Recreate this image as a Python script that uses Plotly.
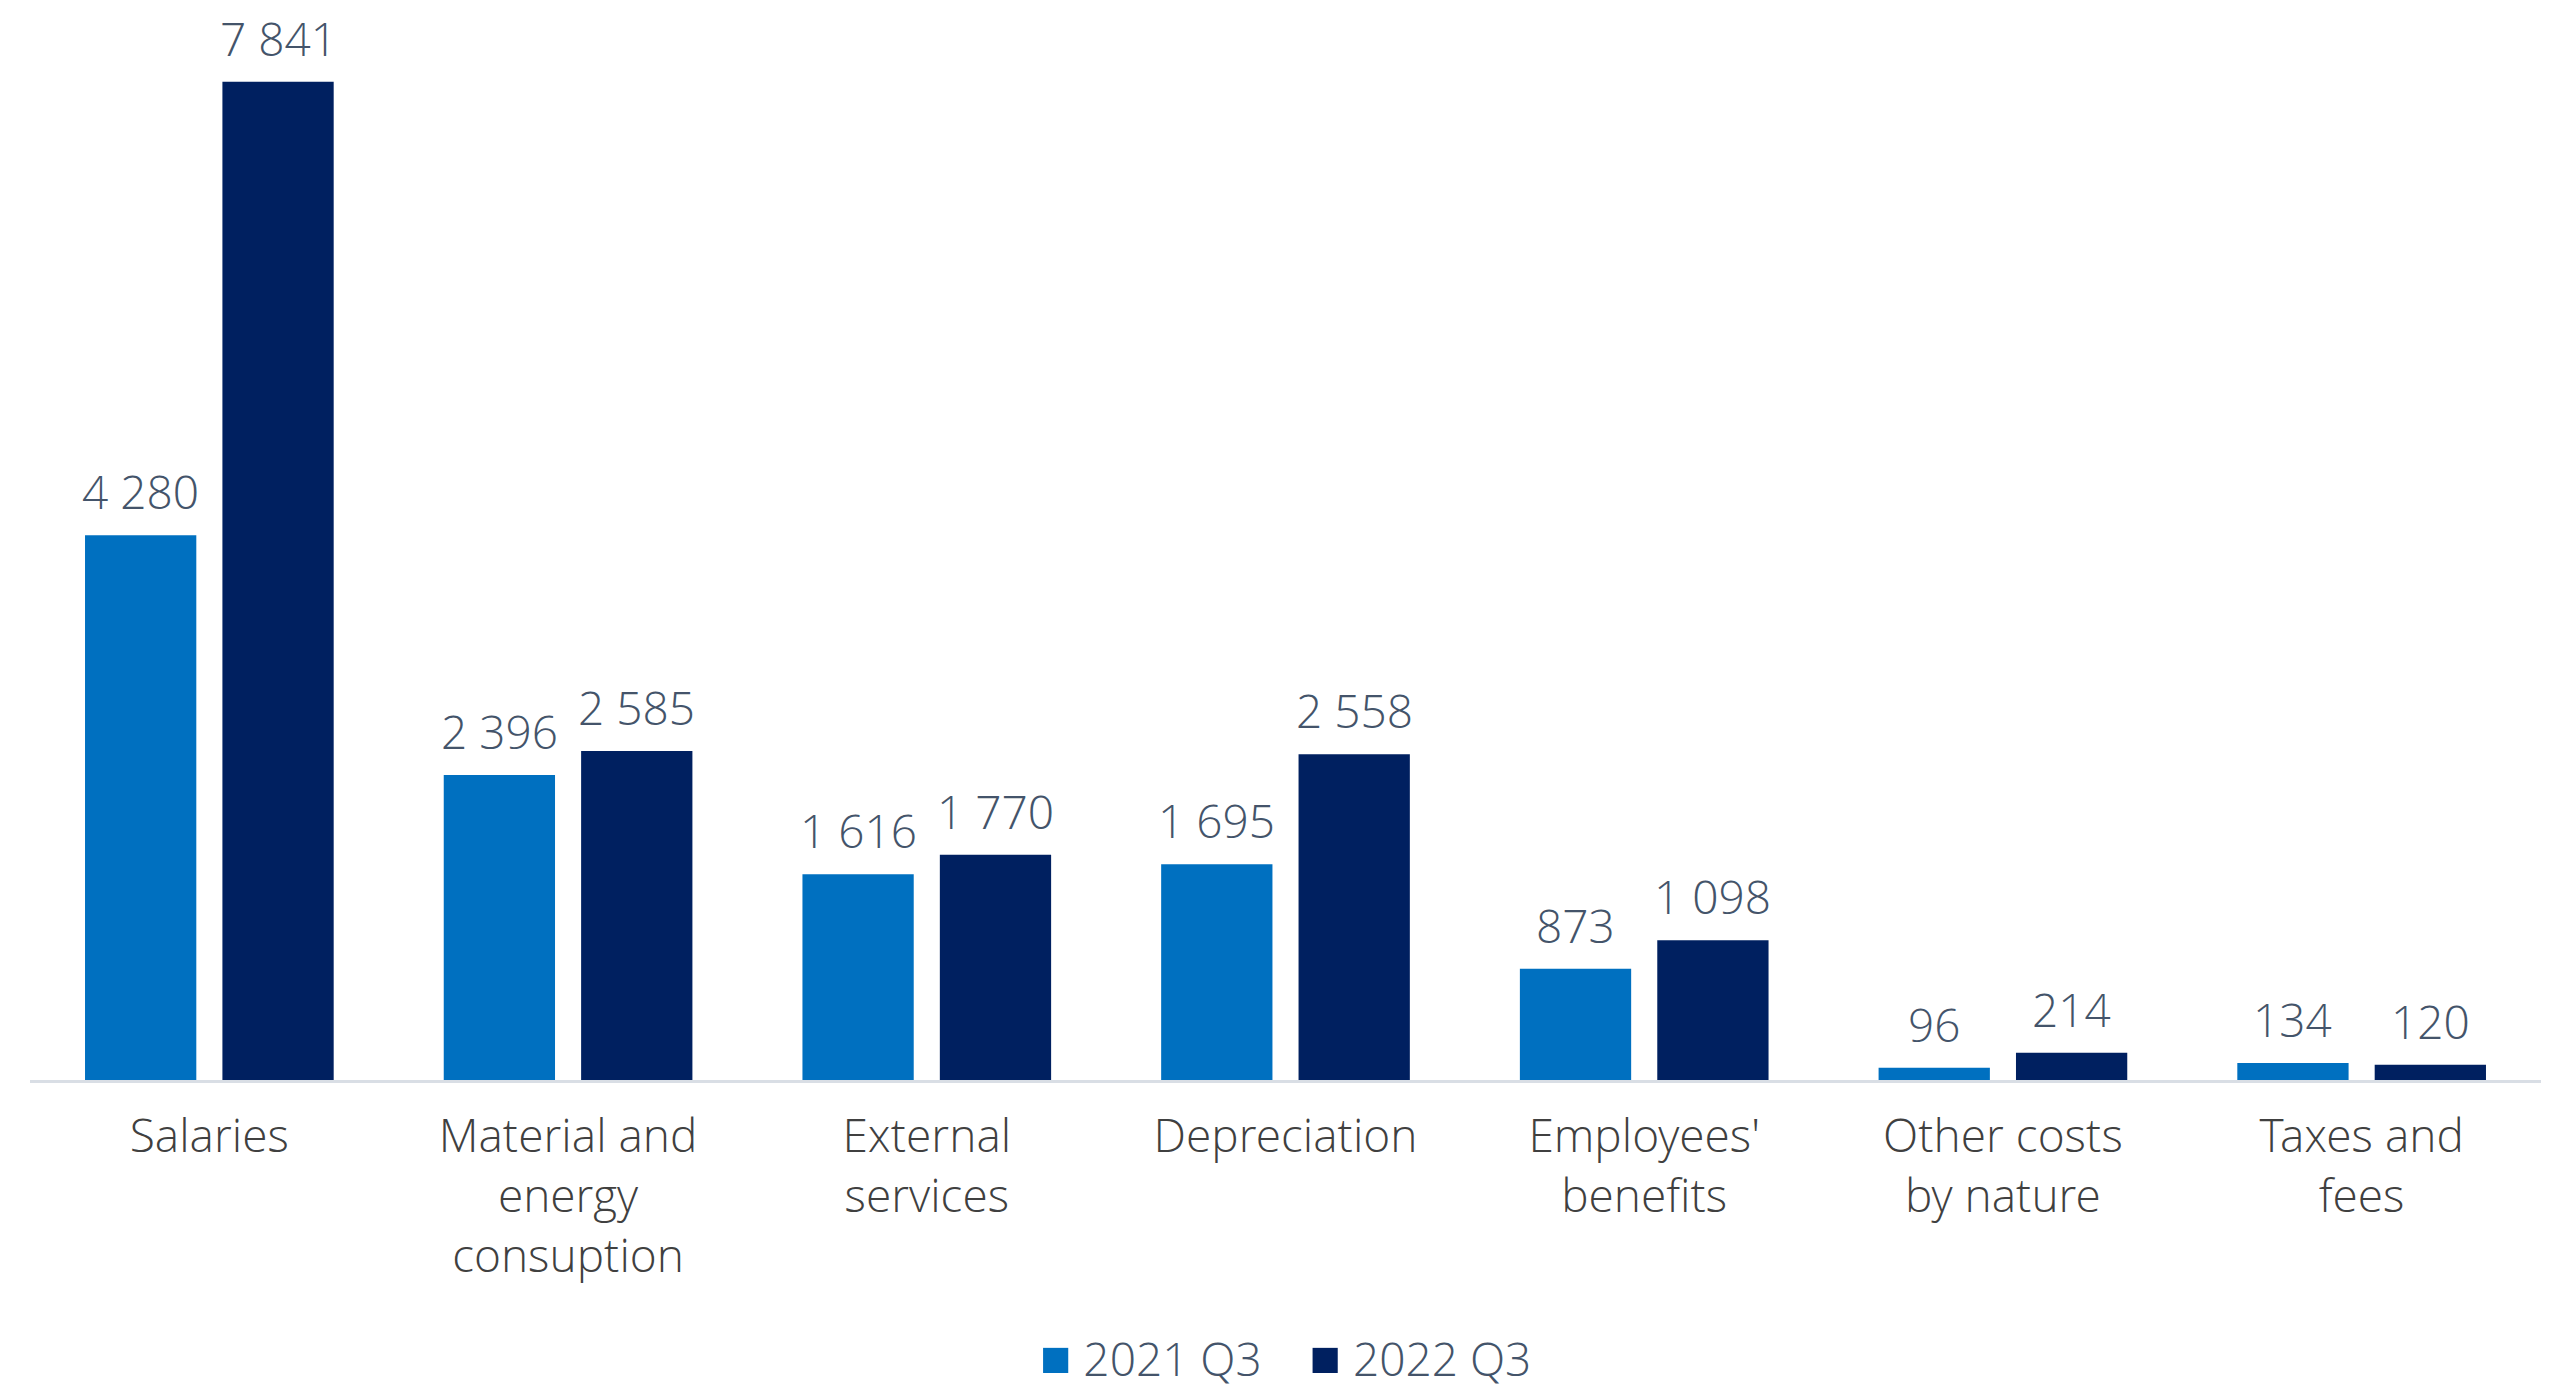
import plotly.graph_objects as go

categories = ["Salaries", "Material and<br>energy<br>consuption", "External<br>services",
              "Depreciation", "Employees'<br>benefits", "Other costs<br>by nature", "Taxes and<br>fees"]
series_names = ["2021 Q3", "2022 Q3"]
values_2021 = [4280, 2396, 1616, 1695, 873, 96, 134]
values_2022 = [7841, 2585, 1770, 2558, 1098, 214, 120]
colors = ["#0070C0", "#002060"]

W, H = 2566, 1392
mt, mb, ml, mr = 20, 312, 30, 25
BARGAP, GROUPGAP = 0.234, 0.19
FONT = "Open Sans Light, Open Sans"
FS = 46

def fmt(v):
    return f"{v:,}".replace(",", " ")

fig = go.Figure()
for name, vals, col in zip(series_names, [values_2021, values_2022], colors):
    fig.add_trace(go.Bar(name=name, x=categories, y=vals, showlegend=False,
                         marker=dict(color=col, line=dict(width=0))))

# value labels via annotations (data coordinates)
slot = (1 - BARGAP) / 2
for si, vals in enumerate([values_2021, values_2022]):
    off = (si - 0.5) * slot
    for ci, v in enumerate(vals):
        fig.add_annotation(x=ci + off, y=v, xref="x", yref="y", text=fmt(v), showarrow=False,
                           yanchor="bottom", yshift=11,
                           font=dict(family=FONT, size=FS, color="#44546A", weight=300))

# legend (large square swatches)
legend_parts = []
for name, col in zip(series_names, colors):
    legend_parts.append(f"<span style='color:{col};font-family:DejaVu Sans;font-size:52px'>■</span>\u00a0{name}")
legend_text = "\u00a0\u00a0\u00a0\u00a0".join(legend_parts)
fig.add_annotation(x=0.5, y=-0.262, xref="paper", yref="paper", text=legend_text, showarrow=False,
                   xanchor="center", yanchor="middle",
                   font=dict(family=FONT, size=FS, color="#44546A", weight=300))

fig.update_layout(
    width=W, height=H,
    margin=dict(t=mt, b=mb, l=ml, r=mr, autoexpand=False),
    paper_bgcolor="white", plot_bgcolor="white",
    barmode="group", bargap=BARGAP, bargroupgap=GROUPGAP,
    font=dict(family=FONT, size=FS, color="#404040", weight=300),
    showlegend=False,
    xaxis=dict(showline=True, linecolor="#D9DEE5", linewidth=3, ticks="", showgrid=False,
               tickfont=dict(family=FONT, size=FS, color="#404040", weight=300),
               ticklabelstandoff=14, range=[-0.5, 6.5]),
    yaxis=dict(range=[0, 8327], visible=False, showgrid=False, zeroline=False),
)

fig.write_html("out.html")
